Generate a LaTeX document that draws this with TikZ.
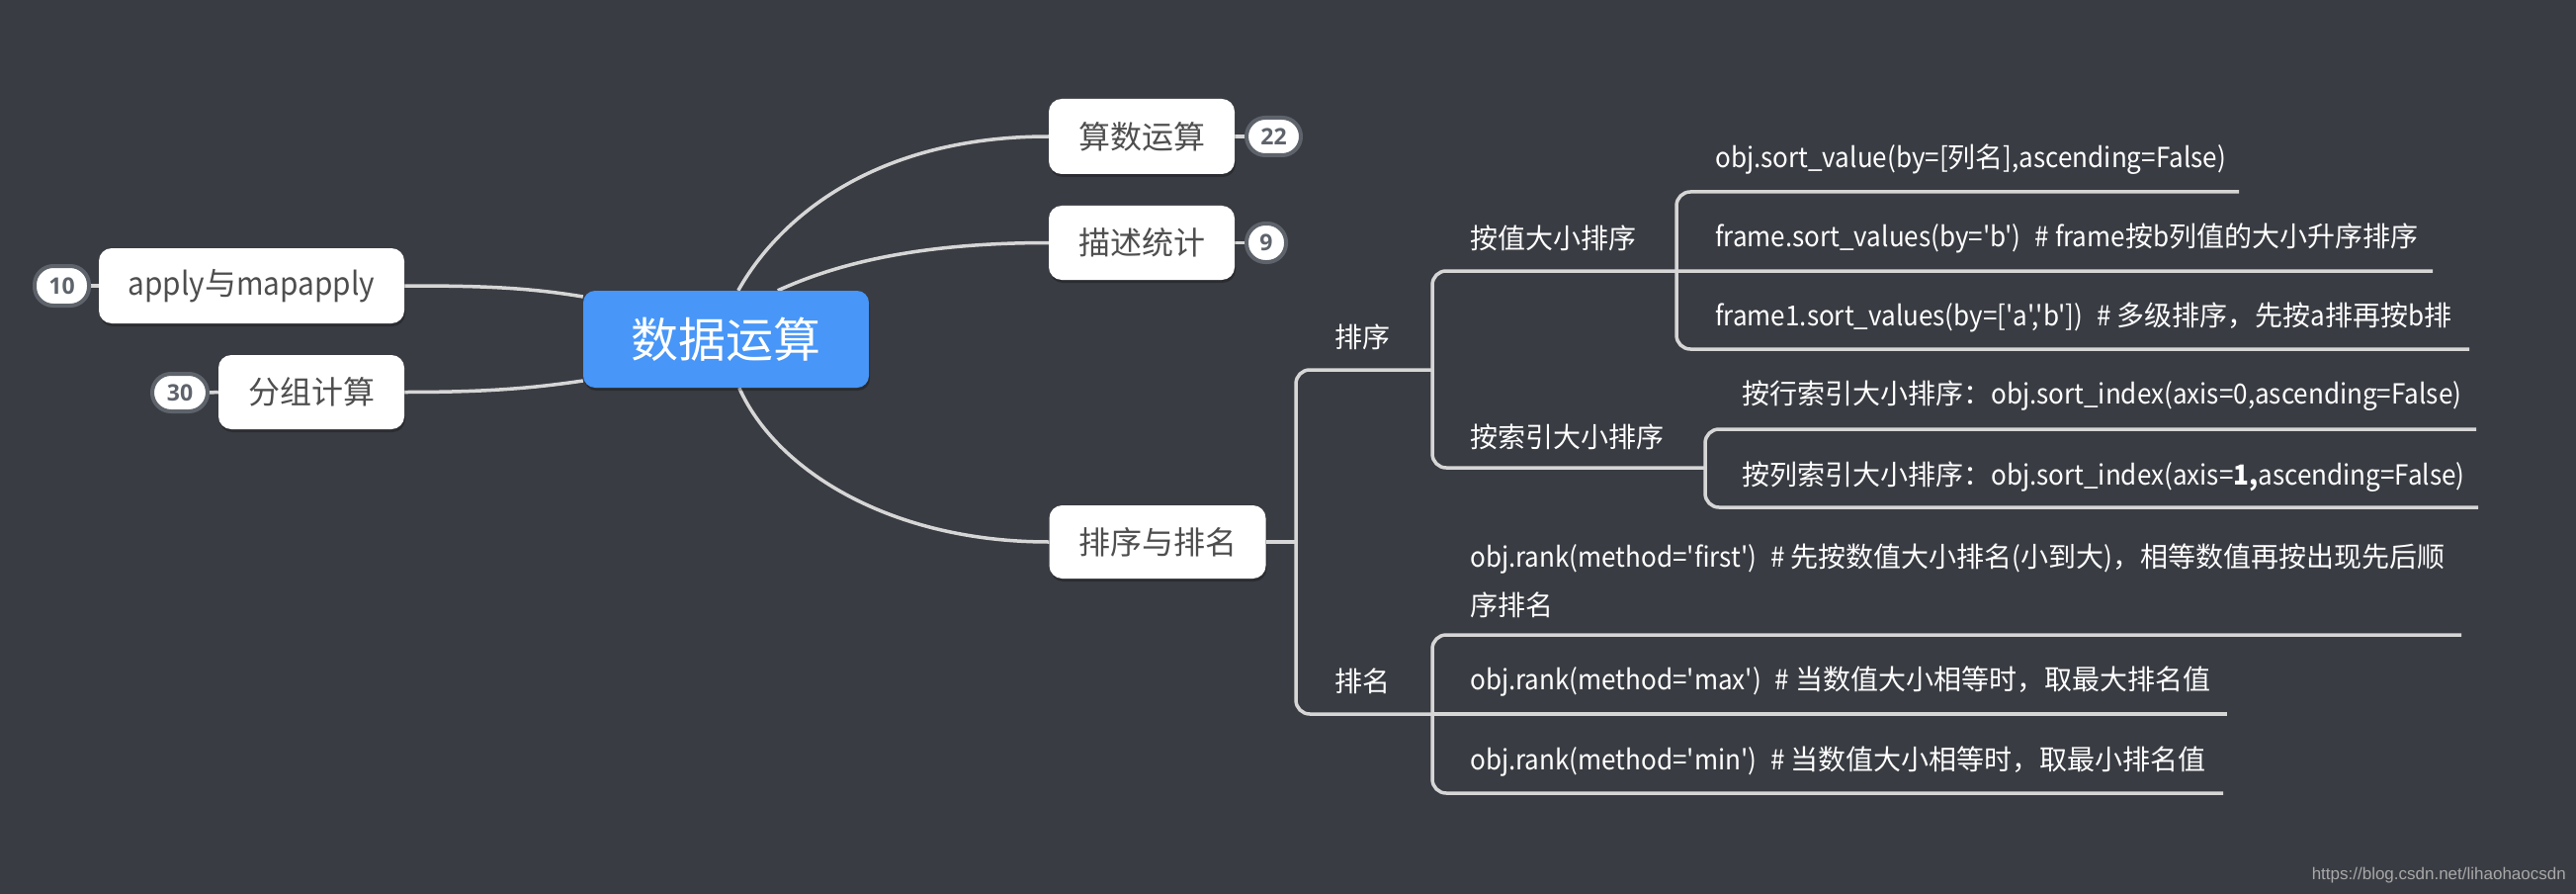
\documentclass[tikz,border=0pt]{standalone}
\usepackage{fontspec}
\setmainfont{Noto Sans CJK SC}[Ligatures=TeXOff]
\newfontfamily\latfont{Noto Sans CJK SC}[Ligatures=TeXOff, FakeStretch=0.93]
\newcommand\lat[1]{{\latfont #1}}
\newfontfamily\badgefont{Open Sans}
\newfontfamily\wmfont{Liberation Sans}
\usetikzlibrary{shadows,calc}
\pgfdeclarelayer{bottom}
\pgfdeclarelayer{background}
\pgfsetlayers{bottom,background,main}
\definecolor{bg}{HTML}{393C42}
\definecolor{linec}{HTML}{D6D6D6}
\definecolor{boxtext}{HTML}{4E4E4E}
\definecolor{mainblue}{HTML}{4796F8}
\definecolor{badgec}{HTML}{5E636B}
\definecolor{wmc}{HTML}{A8A8A8}
\begin{document}
\begin{tikzpicture}[x=1pt,y=-1pt,
  conn/.style={draw=linec, line width=3.5pt},
  treeline/.style={draw=linec, line width=3.5pt, rounded corners=14pt},
  topicbox/.style={fill=white, rounded corners=13pt, text=boxtext,
    font=\fontsize{32}{38}\selectfont, inner sep=0pt,
    drop shadow={shadow xshift=1pt, shadow yshift=-3pt, opacity=0.25, fill=black}},
  mainbox/.style={fill=mainblue, rounded corners=12pt, text=white,
    font=\fontsize{48}{56}\selectfont, inner sep=0pt,
    drop shadow={shadow xshift=1pt, shadow yshift=-3pt, opacity=0.25, fill=black}},
  badge/.style={fill=white, draw=badgec, line width=4pt, rounded corners=19pt,
    text=badgec, font=\badgefont\bfseries\fontsize{23}{26}\selectfont, inner sep=0pt},
  leaf/.style={anchor=west, text=white, inner sep=0pt,
    font=\fontsize{28}{34}\selectfont},
  watermark/.style={text=wmc, font=\wmfont\fontsize{17}{20}\selectfont, inner sep=0pt}
]
\begin{pgfonlayer}{bottom}
\fill[bg] (0,0) rectangle (2606,904);
\end{pgfonlayer}
\useasboundingbox (0,0) rectangle (2606,904);

% central and first-level topics
\node[mainbox, minimum width=289pt, minimum height=98pt] (c) at (734.5,343) {数据运算};
\node[topicbox, minimum width=188pt, minimum height=76pt] (a1) at (1155,138) {算数运算};
\node[topicbox, minimum width=188pt, minimum height=75pt] (a2) at (1155,245.5) {描述统计};
\node[topicbox, minimum width=309pt, minimum height=76pt] (a3) at (254.5,289) {\lat{apply}与\lat{mapapply}};
\node[topicbox, minimum width=188pt, minimum height=75pt] (a4) at (315,396.5) {分组计算};
\node[topicbox, minimum width=219pt, minimum height=74pt] (a5) at (1171,548) {排序与排名};

% badges
\node[badge, minimum width=55pt, minimum height=38pt] (b1) at (1288.5,138) {22};
\node[badge, minimum width=40pt, minimum height=39pt] (b2) at (1281,245.5) {9};
\node[badge, minimum width=55pt, minimum height=40pt] (b3) at (62.5,289) {10};
\node[badge, minimum width=56pt, minimum height=38pt] (b4) at (182,397) {30};

\begin{pgfonlayer}{background}
\draw[conn] ($(c.north west)+(157,0)$) .. controls +(38,-68) and +(-182,0) .. (a1.west);
\draw[conn] ($(c.north west)+(197,0)$) .. controls +(53,-24) and +(-141,0) .. (a2.west);
\draw[conn] ($(c.south west)+(158,0)$) .. controls +(37,83) and +(-161,0) .. (a5.west);
\draw[conn] ($(c.west)+(0,-43)$) .. controls +(-60,-10) and +(70,0) .. (a3.east);
\draw[conn] ($(c.west)+(0,42)$) .. controls +(-60,9) and +(70,0) .. (a4.east);
\draw[conn] (a1.east) -- (b1.west);
\draw[conn] (a2.east) -- (b2.west);
\draw[conn] (a3.west) -- (b3.east);
\draw[conn] (a4.west) -- (b4.east);
\end{pgfonlayer}

% tree coordinates
\coordinate (k1) at (1311,548);
\draw[conn] (a5.east) -- (k1);

% text nodes
\node[leaf] (s) at (1350,341) {排序};
\node[leaf] (r) at (1350,689) {排名};
\node[leaf] (sv) at (1487,241) {按值大小排序};
\node[leaf] (si) at (1487,442) {按索引大小排序};
\node[leaf] (sv1) at (1735,161) {\lat{obj.sort\_value(by=[}列名\lat{],ascending=False)}};
\node[leaf] (sv2) at (1735,241) {\lat{frame.sort\_values(by='b')\hspace{0.5em}\# frame}按\lat{b}列值的大小升序排序};
\node[leaf] (sv3) at (1735,321) {\lat{frame1.sort\_values(by=['a','b'])\hspace{0.5em}\# }多级排序，先按\lat{a}排再按\lat{b}排};
\node[leaf] (si1) at (1762,400) {按行索引大小排序：\lat{obj.sort\_index(axis=0,ascending=False)}};
\node[leaf] (si2) at (1762,482) {按列索引大小排序：\lat{obj.sort\_index(axis={\bfseries 1,}ascending=False)}};
\node[leaf, align=left, font=\fontsize{28}{49}\selectfont] (rk1) at (1487,587) {\lat{obj.rank(method='first')\hspace{0.5em}\# }先按数值大小排名\lat{(}小到大\lat{)}，相等数值再按出现先后顺\\序排名};
\node[leaf] (rk2) at (1487,689) {\lat{obj.rank(method='max')\hspace{0.5em}\# }当数值大小相等时，取最大排名值};
\node[leaf] (rk3) at (1487,770) {\lat{obj.rank(method='min')\hspace{0.5em}\# }当数值大小相等时，取最小排名值};

% brackets and underlines
\draw[treeline] (1449,374) -- (1311,374) -- (1311,722) -- (1449,722);
\draw[treeline] (2461,274) -- (1449,274) -- (1449,473) -- (1725,473);
\draw[treeline] (2265,194) -- (1696,194) -- (1696,353) -- (2498,353);
\draw[treeline] (2505,434) -- (1725,434) -- (1725,513) -- (2507,513);
\draw[treeline] (2490,642) -- (1449,642) -- (1449,802) -- (2249,802);
\draw[conn] (1449,722) -- (2253,722);

\node[watermark, anchor=east] (wm) at (2596,885) {https://blog.csdn.net/lihaohaocsdn};
\end{tikzpicture}
\end{document}
